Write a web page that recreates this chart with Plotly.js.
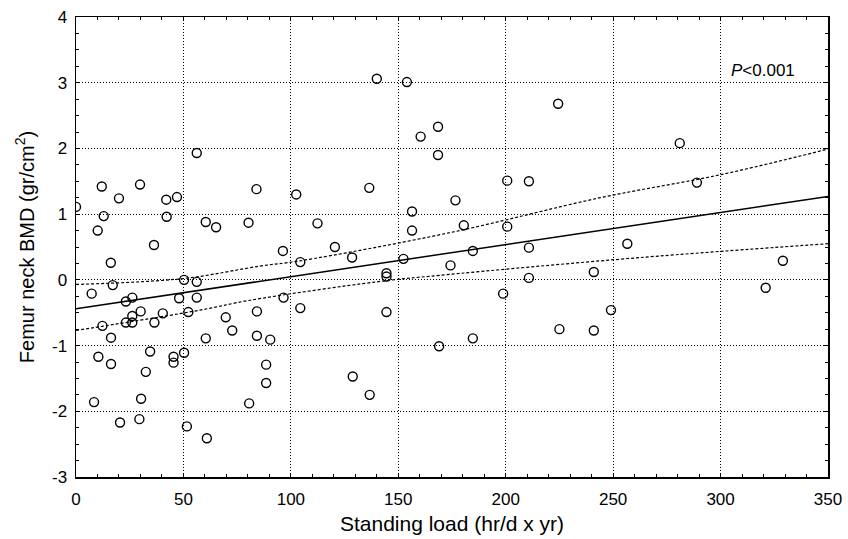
<!DOCTYPE html>
<html>
<head>
<meta charset="utf-8">
<script src="https://cdn.plot.ly/plotly-3.0.1.min.js"></script>
<style>html,body{margin:0;padding:0;background:#fff;}#chart{width:848px;height:539px;}</style>
</head>
<body>
<div id="chart"></div>
<script>
// Scatter points: standing load (hr/d x yr) vs femur neck BMD
var loadX = [0, 7.3, 8.4, 10.1, 10.4, 12, 12.3, 12.9, 16.2, 17.1, 16.3, 16.3, 20, 20.5, 23.2, 23.2, 26.2, 26.2, 26.2,
  29.8, 30.1, 30.3, 29.5, 32.5, 34.5, 36.5, 36.3, 40.4, 42, 42.2, 45.4, 45.4, 47, 48, 50.3, 50.3, 52.3, 51.6,
  56.2, 56.2, 56.2, 60.4, 60.4, 60.9, 65.2, 69.7, 72.7, 80.3, 80.6, 84, 84.2, 84.2, 88.5, 88.5, 90.4, 96.3, 96.6,
  102.5, 104.4, 104.4, 112.4, 120.5, 128.5, 128.8, 136.5, 136.7, 140, 144.5, 144.5, 144.5, 152.4, 154, 156.4, 156.4,
  160.4, 168.5, 168.5, 169, 174.3, 176.6, 180.5, 184.7, 184.7, 198.8, 200.7, 200.7, 210.8, 210.8, 210.8, 224.4, 225,
  241, 241, 249, 256.6, 281, 289, 321, 329];
var bmdY = [1.11, -0.21, -1.86, 0.75, -1.17, 1.42, -0.7, 0.97, 0.26, -0.08, -0.88, -1.28, 1.24, -2.17, -0.33, -0.65, -0.27, -0.55, -0.65,
  1.45, -0.48, -1.81, -2.12, -1.4, -1.09, -0.65, 0.53, -0.51, 1.22, 0.96, -1.17, -1.26, 1.26, -0.28, 0.0, -1.11, -0.49, -2.23,
  1.93, -0.03, -0.27, 0.88, -0.89, -2.41, 0.8, -0.57, -0.77, 0.87, -1.88, 1.38, -0.48, -0.85, -1.29, -1.57, -0.91, 0.44, -0.27,
  1.3, 0.27, -0.43, 0.86, 0.5, 0.34, -1.47, 1.4, -1.75, 3.06, 0.1, 0.05, -0.49, 0.32, 3.01, 1.04, 0.75,
  2.18, 2.33, 1.9, -1.01, 0.22, 1.21, 0.83, 0.44, -0.89, -0.21, 1.51, 0.81, 1.5, 0.49, 0.03, 2.68, -0.75,
  0.12, -0.77, -0.46, 0.55, 2.08, 1.48, -0.12, 0.29];

// Regression line
var fitX = [0, 350];
var fitY = [-0.44, 1.27];

// Confidence bands
var upperX = [0, 50, 85.7, 104.4, 174.3, 244, 300, 350];
var upperY = [-0.07, 0.02, 0.21, 0.29, 0.72, 1.25, 1.6, 1.99];
var lowerX = [0, 57.8, 81, 140, 169.6, 262.8, 350];
var lowerY = [-0.77, -0.46, -0.31, -0.03, 0.07, 0.34, 0.55];

var xTicks = [0, 50, 100, 150, 200, 250, 300, 350];
var yTicks = [-3, -2, -1, 0, 1, 2, 3, 4];

var FONT = "Liberation Sans, Arial, sans-serif";

var traces = [
  {x: upperX, y: upperY, mode: 'lines', line: {color: '#000', width: 1.2, dash: '3px,2px', shape: 'spline'}, hoverinfo: 'skip'},
  {x: lowerX, y: lowerY, mode: 'lines', line: {color: '#000', width: 1.2, dash: '3px,2px', shape: 'spline'}, hoverinfo: 'skip'},
  {x: fitX, y: fitY, mode: 'lines', line: {color: '#000', width: 1.5}},
  {x: loadX, y: bmdY, mode: 'markers', type: 'scatter',
   marker: {symbol: 'circle-open', size: 9, color: '#000', line: {width: 1.4, color: '#000'}}}
];

var axisCommon = {
  showline: true, linecolor: '#000', linewidth: 1.5, mirror: 'allticks',
  ticks: 'inside', ticklen: 4, tickcolor: '#000', tickwidth: 1,
  showgrid: true, gridcolor: '#000', griddash: '1px,2px', gridwidth: 1,
  zeroline: false, tickfont: {family: FONT, size: 17, color: '#000'}
};

var layout = {
  width: 848, height: 539,
  margin: {l: 76, r: 20, t: 17, b: 62},
  paper_bgcolor: '#fff', plot_bgcolor: '#fff',
  showlegend: false,
  font: {family: FONT, color: '#000'},
  xaxis: Object.assign({}, axisCommon, {
    range: [0, 350], tickvals: xTicks, ticktext: xTicks.map(String),
    minor: {dtick: 10, tick0: 0, ticks: 'inside', ticklen: 3, tickcolor: '#000', showgrid: false},
    ticklabelstandoff: 6,
    title: {text: 'Standing load (hr/d x yr)', font: {family: FONT, size: 21, color: '#000'}, standoff: 8}
  }),
  yaxis: Object.assign({}, axisCommon, {
    range: [-3, 4], tickvals: yTicks, ticktext: yTicks.map(String),
    minor: {dtick: 0.25, tick0: 0, ticks: 'inside', ticklen: 3, tickcolor: '#000', showgrid: false},
    ticklabelstandoff: 4,
    title: {text: 'Femur neck BMD (gr/cm<sup>2</sup>)', font: {family: FONT, size: 20, color: '#000'}, standoff: 12}
  }),
  annotations: [{
    x: 319.7, y: 3.19, xref: 'x', yref: 'y', showarrow: false,
    text: '<i>P</i>&lt;0.001', font: {family: FONT, size: 17, color: '#000'}
  }]
};

Plotly.newPlot('chart', traces, layout, {displayModeBar: false, staticPlot: true});
</script>
</body>
</html>
